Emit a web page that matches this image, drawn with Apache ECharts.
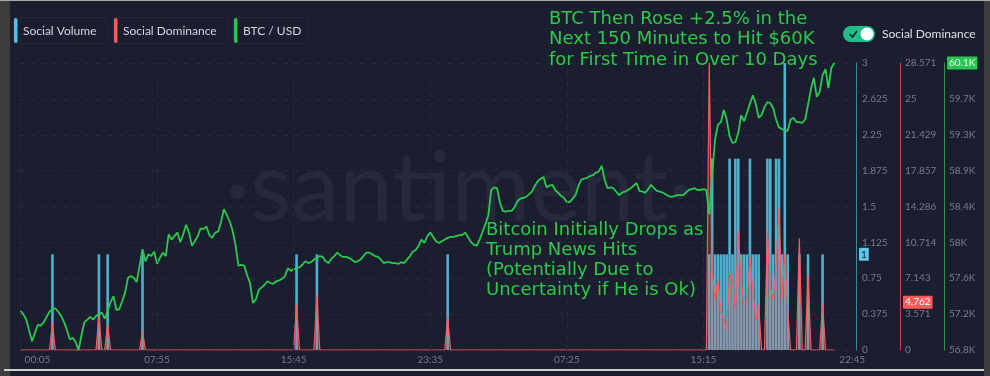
<!DOCTYPE html>
<html>
<head>
<meta charset="utf-8">
<script src="https://cdn.jsdelivr.net/npm/echarts@6/dist/echarts.min.js"></script>
<style>
  html, body { margin: 0; padding: 0; background: #1b1e2e; }
  #chart { width: 990px; height: 376px; }
</style>
</head>
<body>
<div id="chart"></div>
<script>
// time grid: minutes since day-1 00:00, one sample every 10 minutes
const startMinute = 5;
const stepMinutes = 10;

const timeTickMinutes = [5, 475, 945, 1415, 1885, 2355, 2805];
const timeTickLabels = ['00:05', '07:55', '15:45', '23:35', '07:25', '15:15', '22:45'];

const btcTickValues = [56800, 57212.5, 57625, 58037.5, 58450, 58862.5, 59275, 59687.5, 60100];
const btcTickLabels = ['56.8K', '57.2K', '57.6K', '58K', '58.4K', '58.9K', '59.3K', '59.7K', '60.1K'];

// BTC / USD
const btcPrice = [
  57250, 57210, 57150, 57020, 56900, 57000, 57090, 57080, 57120, 57180,
  57240, 57270, 57280, 57240, 57190, 57120, 57030, 56920, 56940, 56890,
  56800, 56970, 57120, 57150, 57180, 57150, 57190, 57210, 57230, 57160,
  57250, 57350, 57420, 57260, 57270, 57360, 57460, 57630, 57650, 57630,
  57580, 57770, 57960, 57820, 57900, 57880, 57930, 57790, 57860, 57920,
  57880, 58130, 58070, 58110, 58150, 58040, 58130, 58240, 58150, 58000,
  58050, 58110, 58200, 58190, 58220, 58120, 58090, 58150, 58160, 58270,
  58420, 58350, 58280, 58170, 58010, 57770, 57780, 57770, 57660, 57570,
  57340, 57380, 57490, 57520, 57550, 57590, 57570, 57560, 57590, 57600,
  57620, 57650, 57740, 57710, 57730, 57740, 57750, 57780, 57820, 57800,
  57810, 57840, 57860, 57880, 57870, 57820, 57800, 57850, 57880, 57920,
  57890, 57870, 57870, 57860, 57840, 57810, 57820, 57840, 57880, 57920,
  57920, 57900, 57880, 57870, 57840, 57800, 57810, 57810, 57800, 57800,
  57790, 57810, 57800, 57840, 57880, 57930, 57950, 58000, 58070, 58030,
  58110, 58150, 58100, 58050, 58030, 58050, 58070, 58090, 58100, 58100,
  58110, 58120, 58120, 58150, 58100, 58040, 58010, 58000, 58070, 58160,
  58250, 58350, 58640, 58670, 58660, 58490, 58400, 58390, 58400, 58400,
  58440, 58510, 58540, 58550, 58560, 58590, 58620, 58690, 58740, 58770,
  58790, 58670, 58690, 58700, 58640, 58610, 58570, 58550, 58500, 58500,
  58540, 58580, 58690, 58760, 58770, 58780, 58800, 58810, 58840, 58850,
  58920, 58760, 58660, 58670, 58660, 58620, 58580, 58610, 58620, 58640,
  58660, 58690, 58720, 58630, 58620, 58610, 58650, 58700, 58660, 58630,
  58620, 58610, 58590, 58570, 58560, 58570, 58580, 58580, 58580, 58610,
  58640, 58650, 58660, 58640, 58640, 58650, 58640, 58360, 58810, 59220,
  59390, 59420, 59560, 59450, 59260, 59180, 59190, 59300, 59500, 59430,
  59530, 59630, 59730, 59630, 59470, 59500, 59590, 59650, 59640, 59580,
  59450, 59360, 59340, 59320, 59320, 59450, 59470, 59420, 59420, 59410,
  59450, 59620, 59800, 59930, 59710, 59770, 59960, 60030, 59810, 60040, 60100
];

// samples where social volume / dominance are non-zero (index into the time grid)
const spikeIndex = [
  11, 27, 30, 42, 95, 102, 147,
  237, 238, 239, 240, 241, 242, 243, 244, 245, 246, 247, 248, 249, 250,
  251, 252, 253, 254, 257, 258, 259, 260, 261, 262, 263, 264, 268, 271, 276
];
const spikeVolume = [
  1, 1, 1, 1, 1, 1, 1,
  1, 2, 1, 1, 1, 1, 1, 2, 1, 2, 2, 1, 1, 1,
  2, 1, 1, 1, 2, 2, 1, 2, 2, 1, 3, 1, 1, 1, 1
];
const spikeDominance = [
  2.667, 3.448, 2.632, 1.887, 4.545, 5.556, 3.333,
  28.571, 8, 5, 7, 4, 3, 2, 7.7, 7, 4, 11.9, 6.7, 4.5, 5,
  9.3, 6, 3, 4.5, 11.9, 6.3, 5, 8.3, 14.2, 5, 9.6, 4, 11.1, 7.6, 4.762
];

const times = btcPrice.map((_, i) => startMinute + i * stepMinutes);
const volume = times.map(() => 0);
const dominance = times.map(() => 0);
spikeIndex.forEach((k, j) => {
  volume[k] = spikeVolume[j];
  dominance[k] = spikeDominance[j];
});

const lastVolume = spikeVolume[spikeVolume.length - 1];
const lastDominance = spikeDominance[spikeDominance.length - 1];
const lastPrice = btcPrice[btcPrice.length - 1];

const labelColor = '#767b8f';
const gridLine = { color: '#272b3d', type: [5, 6], width: 1 };
const axisOffsets = [0, 44, 88];

const chart = echarts.init(document.getElementById('chart'));

const legendItems = [
  { name: 'Social Volume', color: '#4fc3e6', x: 13, w: 94 },
  { name: 'Social Dominance', color: '#ff5a5a', x: 113, w: 115 },
  { name: 'BTC / USD', color: '#27c650', x: 233, w: 75 }
];

const annotationFont = '18px "DejaVu Sans"';
const annotationColor = '#2cc94a';

const graphics = [
  // frame of the screenshot
  { id: 'fl', type: 'rect', shape: { x: 0, y: 0, width: 10, height: 376 }, style: { fill: '#3c3c3c' }, z: 50 },
  { id: 'fr', type: 'rect', shape: { x: 984, y: 0, width: 6, height: 376 }, style: { fill: '#3c3c3c' }, z: 50 },
  { id: 'ft', type: 'rect', shape: { x: 0, y: 0, width: 990, height: 1 }, style: { fill: '#a8a8a8' }, z: 50 },
  { id: 'fb', type: 'rect', shape: { x: 4, y: 369, width: 980, height: 2 }, style: { fill: '#cfcfcf' }, z: 50 },
  // watermark
  {
    id: 'wm', type: 'text', x: 459, y: 190, z: 0,
    style: {
      text: '·santiment·', fill: '#25293a', font: '96px Lato',
      align: 'center', verticalAlign: 'middle'
    }
  },
  // toggle
  { id: 'tg1', type: 'rect', shape: { x: 843, y: 26, width: 32, height: 16, r: 8 }, style: { fill: '#20bd8b' }, z: 50 },
  { id: 'tg2', type: 'circle', shape: { cx: 867, cy: 34, r: 6.5 }, style: { fill: '#ffffff' }, z: 51 },
  {
    id: 'tg3', type: 'polyline', shape: { points: [[849.5, 34], [852.5, 37], [857, 31]] },
    style: { stroke: '#1b1e2e', lineWidth: 1.6, fill: null }, z: 51
  },
  {
    id: 'tg4', type: 'text', x: 882, y: 34, z: 50,
    style: { text: 'Social Dominance', fill: '#dde0e8', font: '12px Lato', verticalAlign: 'middle' }
  },
  // annotations
  {
    id: 'an1', type: 'text', x: 549, y: 9, z: 60,
    style: {
      text: 'BTC Then Rose +2.5% in the\nNext 150 Minutes to Hit $60K\nfor First Time in Over 10 Days',
      fill: annotationColor, font: annotationFont, lineHeight: 20.5, verticalAlign: 'top'
    }
  },
  {
    id: 'an2', type: 'text', x: 486, y: 220, z: 60,
    style: {
      text: 'Bitcoin Initially Drops as\nTrump News Hits\n(Potentially Due to\nUncertainty if He is Ok)',
      fill: annotationColor, font: annotationFont, lineHeight: 20, verticalAlign: 'top'
    }
  }
];

legendItems.forEach((it, k) => {
  graphics.push(
    { id: 'lb' + k, type: 'rect', shape: { x: it.x + 0.5, y: 17.5, width: it.w, height: 26, r: 4 }, style: { fill: null, stroke: '#252939', lineWidth: 1 }, z: 50 },
    { id: 'lc' + k, type: 'rect', shape: { x: it.x + 1, y: 18, width: 3.5, height: 25, r: 2 }, style: { fill: it.color }, z: 51 },
    { id: 'lt' + k, type: 'text', x: it.x + 10, y: 31, z: 51, style: { text: it.name, fill: '#d3d6de', font: '12px Lato', verticalAlign: 'middle' } }
  );
});

chart.setOption({
  backgroundColor: '#1b1e2e',
  animation: false,
  grid: { left: 19, right: 134, top: 63, bottom: 26 },
  xAxis: {
    type: 'value', min: 0, max: 2880,
    axisLine: { show: false, onZero: false },
    axisTick: { show: false, customValues: timeTickMinutes },
    splitLine: { show: false },
    axisLabel: {
      customValues: timeTickMinutes,
      color: labelColor, fontSize: 10, fontFamily: 'Lato', margin: 5,
      formatter: (v) => {
        const k = timeTickMinutes.indexOf(v);
        if (k === 0) return '{first|' + timeTickLabels[k] + '}';
        if (k === timeTickLabels.length - 1) return '{last|' + timeTickLabels[k] + '}';
        return timeTickLabels[k];
      },
      rich: {
        first: { padding: [0, 0, 0, 34], color: labelColor, fontSize: 10, fontFamily: 'Lato' },
        last: { padding: [0, 0, 0, 36], color: labelColor, fontSize: 10, fontFamily: 'Lato' }
      }
    }
  },
  yAxis: [
    {
      type: 'value', position: 'right', offset: axisOffsets[0], min: 0, max: 3, interval: 0.375,
      axisLine: { show: true, onZero: false, lineStyle: { color: '#3b8aa4' } },
      axisTick: { show: false },
      axisLabel: { color: labelColor, fontSize: 10, fontFamily: 'Lato', margin: 6 },
      splitLine: { show: true, lineStyle: gridLine }
    },
    {
      type: 'value', position: 'right', offset: axisOffsets[1], min: 0, max: 200 / 7, interval: 25 / 7,
      axisLine: { show: true, onZero: false, lineStyle: { color: '#c24446' } },
      axisTick: { show: false },
      axisLabel: {
        color: labelColor, fontSize: 10, fontFamily: 'Lato', margin: 5,
        formatter: (v) => String(parseFloat(v.toFixed(3)))
      },
      splitLine: { show: false }
    },
    {
      type: 'value', position: 'right', offset: axisOffsets[2], min: 56800, max: 60100,
      axisLine: { show: true, onZero: false, lineStyle: { color: '#289646' } },
      axisTick: { show: false, customValues: btcTickValues },
      axisLabel: {
        customValues: btcTickValues,
        color: labelColor, fontSize: 10, fontFamily: 'Lato', margin: 5,
        formatter: (v) => btcTickLabels[btcTickValues.indexOf(v)]
      },
      splitLine: { show: false }
    }
  ],
  series: [
    {
      name: 'Social Volume', type: 'bar', yAxisIndex: 0, barWidth: 2.6,
      itemStyle: { color: '#4fb2d0' },
      data: times.map((t, i) => [t, volume[i]]),
      markLine: {
        silent: true, symbol: 'none', label: { show: false },
        lineStyle: gridLine,
        data: timeTickMinutes.slice(0, -1).map((t) => ({ xAxis: t }))
      },
      z: 2
    },
    {
      name: 'Social Dominance', type: 'line', yAxisIndex: 1,
      symbol: 'none',
      lineStyle: { color: '#ff5a5a', width: 1.2 },
      areaStyle: { color: 'rgba(255,90,90,0.4)' },
      data: times.map((t, i) => [t, dominance[i]]),
      z: 3
    },
    {
      name: 'BTC / USD', type: 'line', yAxisIndex: 2,
      symbol: 'none',
      lineStyle: { color: '#2ac94f', width: 1.8 },
      data: times.map((t, i) => [t, btcPrice[i]]),
      z: 4
    }
  ],
  graphic: graphics
});

// latest-value badges next to each y axis, placed through the axes' own scales
const axisX = chart.convertToPixel({ xAxisIndex: 0 }, 2880);
const badges = [
  { axis: 0, value: lastVolume, text: String(lastVolume), bg: '#5bc9e8', fg: '#1b1e2e' },
  { axis: 1, value: lastDominance, text: lastDominance.toFixed(3), bg: '#ff5a5a', fg: '#ffffff' },
  { axis: 2, value: lastPrice, text: (lastPrice / 1000).toFixed(1) + 'K', bg: '#27c650', fg: '#e8ffe8' }
];
chart.setOption({
  graphic: badges.map((b, k) => ({
    id: 'badge' + k, type: 'text', z: 70,
    x: axisX + axisOffsets[b.axis] + 3,
    y: chart.convertToPixel({ yAxisIndex: b.axis }, b.value),
    style: {
      text: b.text, fill: b.fg, font: '10px Lato', verticalAlign: 'middle',
      backgroundColor: b.bg, padding: [2, 2, 1, 2], borderRadius: 1
    }
  }))
});
</script>
</body>
</html>
